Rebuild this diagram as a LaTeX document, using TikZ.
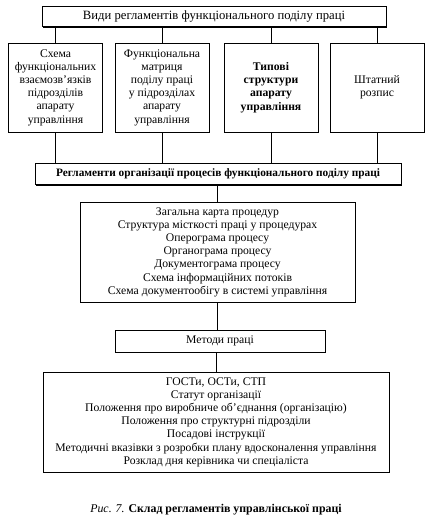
\documentclass[tikz,border=0pt]{standalone}
\usepackage{fontspec}
\setmainfont{Liberation Serif}
\usetikzlibrary{shadows}
\begin{document}
\begin{tikzpicture}[x=0.75pt,y=-0.75pt,
  box/.style={draw=black, line width=0.6pt, fill=white, inner sep=0pt, align=center,
    font=\fontsize{8.75}{9.9}\selectfont,
    drop shadow={shadow xshift=0.9pt, shadow yshift=-0.9pt, opacity=1, fill=black}},
  small/.style={minimum width=70.5pt, minimum height=66.75pt},
  link/.style={draw=black, line width=0.6pt}]
\useasboundingbox (0,0) rectangle (431,523);
\node[box, minimum width=258pt, minimum height=15pt, font=\fontsize{9.5}{11}\selectfont] (top) at (214,16.5) {Види регламентів функціонального поділу праці};
\node[box, small, minimum width=70pt] (b1) at (55.5,87.5) {Схема\\функціональних\\взаємозв’язків\\підрозділів\\апарату\\управління};
\node[box, small] (b2) at (162,87.5) {Функціональна\\матриця\\поділу праці\\у підрозділах\\апарату\\управління};
\node[box, small] (b3) at (271,87.5) {\bfseries Типові\\\bfseries структури\\\bfseries апарату\\\bfseries управління};
\node[box, small] (b4) at (377,87.5) {Штатний\\розпис};
\node[box, minimum width=274.5pt, minimum height=15.75pt, font=\fontsize{8.5}{9.9}\selectfont] (regl) at (218,174) {\bfseries Регламенти організації процесів функціонального поділу праці};
\node[box, minimum width=206.25pt, minimum height=75pt] (list) at (217.5,252) {Загальна карта процедур\\Структура місткості праці у процедурах\\Оперограма процесу\\Органограма процесу\\Документограма процесу\\Схема інформаційних потоків\\Схема документообігу в системі управління};
\node[box, minimum width=157.5pt, minimum height=16.5pt] (met) at (220,341) {Методи праці};
\node[box, minimum width=259.5pt, minimum height=75pt] (bot) at (216,422) {ГОСТи, ОСТи, СТП\\Статут організації\\Положення про виробниче об’єднання (організацію)\\Положення про структурні підрозділи\\Посадові інструкції\\Методичні вказівки з розробки плану вдосконалення управління\\Розклад дня керівника чи спеціаліста};
\node[font=\fontsize{8.9}{11}\selectfont] (cap) at (216,510) {\textit{Рис. 7.} \textbf{Склад регламентів управлінської праці}};
\foreach \b in {b1,b2,b3,b4}{
  \draw[link] (\b.north) -- (\b.north |- top.south);
  \draw[link] (\b.south) -- (\b.south |- regl.north);
}
\draw[link] (list.north) -- (list.north |- regl.south);
\draw[link] (list.south) -- (list.south |- met.north);
\draw[link] (bot.north) -- (bot.north |- met.south);
\end{tikzpicture}
\end{document}
